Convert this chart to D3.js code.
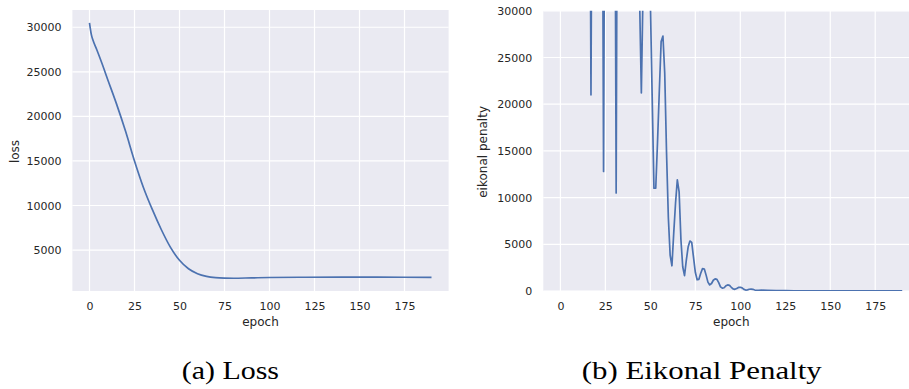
<!DOCTYPE html>
<html>
<head>
<meta charset="utf-8">
<script src="https://cdn.jsdelivr.net/npm/d3@7"></script>
<style>
  body { margin: 0; background: #fff; }
  svg { display: block; }
</style>
</head>
<body>
<svg id="chart" width="909" height="389"></svg>
<script>
// (a) loss at a handful of epochs
const lossEpochs = [0, 1, 2, 4, 7, 10, 15, 20, 25, 30, 35, 40, 45, 50, 55, 60, 65, 70, 75, 80, 90, 100, 120, 140, 160, 175, 190];
const lossValues = [30500, 29200, 28500, 27500, 25900, 24200, 21400, 18350, 15000, 12000, 9500, 7250, 5300, 3850, 2900, 2350, 2050, 1900, 1850, 1840, 1880, 1920, 1950, 1960, 1960, 1950, 1930];

// (b) eikonal penalty, one value per epoch up to 110 (values above 30000 are off the chart)
const penaltyEpochs = [
  0, 1, 2, 3, 4, 5, 6, 7, 8, 9, 10, 11, 12, 13, 14, 15, 16, 17, 18, 19,
  20, 21, 22, 23, 24, 25, 26, 27, 28, 29, 30, 31, 32, 33, 34, 35, 36, 37, 38, 39,
  40, 41, 42, 43, 44, 45, 46, 47, 48, 49, 50, 51, 52, 53, 54, 55, 56, 57, 58, 59,
  60, 61, 62, 63, 64, 65, 66, 67, 68, 69, 70, 71, 72, 73, 74, 75, 76, 77, 78, 79,
  80, 81, 82, 83, 84, 85, 86, 87, 88, 89, 90, 91, 92, 93, 94, 95, 96, 97, 98, 99,
  100, 101, 102, 103, 104, 105, 106, 107, 108, 109, 110,
  112, 115, 120, 125, 130, 140, 150, 160, 175, 190
];
const penaltyValues = [
  140000, 125000, 110000, 100000, 95000, 90000, 88000, 85000, 80000, 78000, 76000, 74000, 72000, 70000, 70000, 68000, 66000, 21000, 66000, 64000,
  62000, 60000, 62000, 64000, 12800, 66000, 64000, 62000, 60000, 62000, 65000, 10500, 68000, 64000, 60000, 58000, 56000, 55000, 54000, 52000,
  50000, 48000, 46000, 42000, 31500, 21200, 33000, 45000, 50000, 45000, 31000, 21000, 11000, 11000, 16000, 21500, 26700, 27300, 23300, 14800,
  7900, 3850, 2700, 6200, 9400, 11900, 10600, 5500, 2600, 1650, 3300, 4700, 5350, 5200, 3600, 2000, 1200, 1250, 1900, 2400,
  2350, 1700, 950, 650, 800, 1150, 1300, 1250, 900, 450, 300, 350, 550, 650, 600, 400, 220, 180, 260, 380,
  400, 330, 170, 100, 120, 190, 210, 180, 110, 70, 70,
  90, 70, 40, 30, 20, 15, 10, 8, 5, 5
];

const epochTicks = [0, 25, 50, 75, 100, 125, 150, 175];
const lossTicks = [5000, 10000, 15000, 20000, 25000, 30000];
const penaltyTicks = [0, 5000, 10000, 15000, 20000, 25000, 30000];

const svg = d3.select("#chart");

function buildPanel(opts) {
    const g = svg.append("g")
        .attr("transform", `translate(${opts.left},${opts.top})`);

    const x = d3.scaleLinear().domain(opts.xDomain).range([0, opts.width]);
    const y = d3.scaleLinear().domain(opts.yDomain).range([opts.height, 0]);

    g.append("rect")
        .attr("width", opts.width)
        .attr("height", opts.height)
        .attr("fill", "#eaeaf2");

    // white grid
    g.selectAll(".hgrid")
        .data(opts.yTicks)
        .enter().append("line")
        .attr("x1", 0).attr("x2", opts.width)
        .attr("y1", d => y(d)).attr("y2", d => y(d))
        .attr("stroke", "#fff").attr("stroke-width", 1.2);
    g.selectAll(".vgrid")
        .data(opts.xTicks)
        .enter().append("line")
        .attr("y1", 0).attr("y2", opts.height)
        .attr("x1", d => x(d)).attr("x2", d => x(d))
        .attr("stroke", "#fff").attr("stroke-width", 1.2);

    const xAxis = g.append("g")
        .attr("transform", `translate(0,${opts.height})`)
        .call(d3.axisBottom(x).tickValues(opts.xTicks).tickSize(0).tickPadding(11));
    const yAxis = g.append("g")
        .call(d3.axisLeft(y).tickValues(opts.yTicks).tickSize(0).tickPadding(11).tickFormat(d3.format("d")));

    [xAxis, yAxis].forEach(a => {
        a.select(".domain").remove();
        a.attr("font-family", "DejaVu Sans").attr("font-size", 11);
        a.selectAll("text").attr("fill", "#262626");
    });

    g.append("clipPath").attr("id", opts.id + "-clip")
        .append("rect").attr("width", opts.width).attr("height", opts.height);

    const line = d3.line()
        .x((d, i) => x(opts.epochs[i]))
        .y(d => y(d))
        .curve(opts.curve);

    g.append("path")
        .datum(opts.values)
        .attr("clip-path", `url(#${opts.id}-clip)`)
        .attr("d", line)
        .attr("fill", "none")
        .attr("stroke", "#4c72b0")
        .attr("stroke-width", 1.7)
        .attr("stroke-linejoin", "round");

    g.append("text")
        .attr("x", opts.width / 2)
        .attr("y", opts.height + 35)
        .attr("text-anchor", "middle")
        .attr("font-family", "DejaVu Sans")
        .attr("font-size", 12)
        .attr("fill", "#262626")
        .text("epoch");

    g.append("text")
        .attr("transform", `translate(${opts.yLabelX},${opts.height / 2 + 1}) rotate(-90)`)
        .attr("text-anchor", "middle")
        .attr("font-family", "DejaVu Sans")
        .attr("font-size", 12)
        .attr("fill", "#262626")
        .text(opts.yLabel);
}

// matplotlib-style 5% padding on the loss axis
const lossExtent = d3.extent(lossValues);
const lossPad = (lossExtent[1] - lossExtent[0]) * 0.05;

buildPanel({
    id: "loss",
    left: 72.4, top: 10, width: 376.2, height: 281,
    xDomain: [-9.5, 199.5],
    yDomain: [lossExtent[0] - lossPad, lossExtent[1] + lossPad],
    xTicks: epochTicks, yTicks: lossTicks,
    epochs: lossEpochs, values: lossValues,
    curve: d3.curveMonotoneX,
    yLabel: "loss", yLabelX: 19.3 - 72.4
});

buildPanel({
    id: "penalty",
    left: 543.3, top: 10.8, width: 376, height: 280.2,
    xDomain: [-9.5, 199.5],
    yDomain: [0, 30000],
    xTicks: epochTicks, yTicks: penaltyTicks,
    epochs: penaltyEpochs, values: penaltyValues,
    curve: d3.curveLinear,
    yLabel: "eikonal penalty", yLabelX: 487.4 - 543.3
});

// sub-figure captions
const captions = [
    { text: "(a) Loss", x: 181.7, w: 97.3 },
    { text: "(b) Eikonal Penalty", x: 581.7, w: 240 }
];
svg.selectAll(".caption")
    .data(captions)
    .enter().append("text")
    .attr("x", d => d.x)
    .attr("y", 379.3)
    .attr("font-family", "Liberation Serif")
    .attr("font-size", 25)
    .attr("fill", "#000")
    .attr("textLength", d => d.w)
    .attr("lengthAdjust", "spacingAndGlyphs")
    .text(d => d.text);
</script>
</body>
</html>
